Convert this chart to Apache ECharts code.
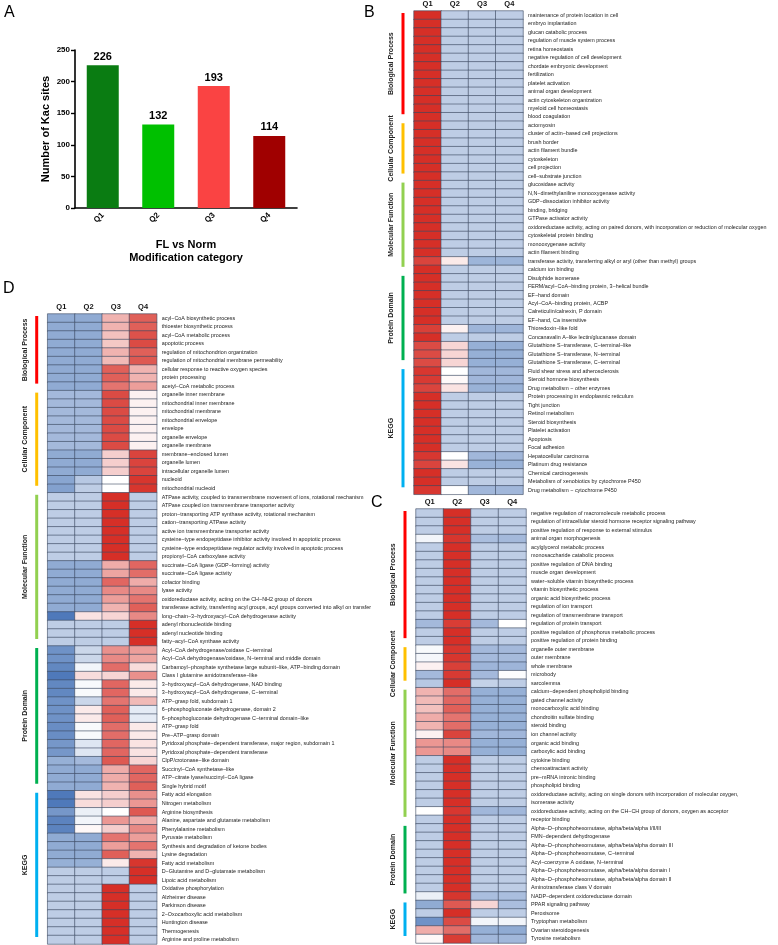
<!DOCTYPE html>
<html><head><meta charset="utf-8">
<script src="https://cdn.jsdelivr.net/npm/echarts@6/dist/echarts.min.js"></script>
<style>html,body{margin:0;padding:0;background:#fff}#c{width:778px;height:945px}</style>
</head><body><div id="c"></div>
<script>
// ---------- Panel A data ----------
const barCategories = ['Q1','Q2','Q3','Q4'];
const barValues = [226,132,193,114];
const barColors = ['#0A7C12','#00C000','#FA4343','#A00000'];
const barAxisTitle = 'Number of Kac sites';
const barXTitle = 'FL vs Norm\nModification category';

// ---------- Shared ----------
const quartiles = ['Q1','Q2','Q3','Q4'];
const groupNames = ['Biological Process','Cellular Component','Molecular Function','Protein Domain','KEGG'];
const groupColors = ['#FF0000','#FFC000','#92D050','#00B050','#00B0F0'];

// ---------- Panel B ----------
const bGroupSizes = [13,7,11,11,15];
const bTerms = [
'maintenance of protein location in cell','embryo implantation','glucan catabolic process','regulation of muscle system process','retina homeostasis','negative regulation of cell development','chordate embryonic development','fertilization','platelet activation','animal organ development','actin cytoskeleton organization','myeloid cell homeostasis','blood coagulation',
'actomyosin','cluster of actin−based cell projections','brush border','actin filament bundle','cytoskeleton','cell projection','cell−substrate junction',
'glucosidase activity','N,N−dimethylaniline monooxygenase activity','GDP−dissociation inhibitor activity','binding, bridging','GTPase activator activity','oxidoreductase activity, acting on paired donors, with incorporation or reduction of molecular oxygen','cytoskeletal protein binding','monooxygenase activity','actin filament binding','transferase activity, transferring alkyl or aryl (other than methyl) groups','calcium ion binding',
'Disulphide isomerase','FERM/acyl−CoA−binding protein, 3−helical bundle','EF−hand domain','Acyl−CoA−binding protein, ACBP','Calreticulin/calnexin, P domain','EF−hand, Ca insensitive','Thioredoxin−like fold','Concanavalin A−like lectin/glucanase domain','Glutathione S−transferase, C−terminal−like','Glutathione S−transferase, N−terminal','Glutathione S−transferase, C−terminal',
'Fluid shear stress and atherosclerosis','Steroid hormone biosynthesis','Drug metabolism − other enzymes','Protein processing in endoplasmic reticulum','Tight junction','Retinol metabolism','Steroid biosynthesis','Platelet activation','Apoptosis','Focal adhesion','Hepatocellular carcinoma','Platinum drug resistance','Chemical carcinogenesis','Metabolism of xenobiotics by cytochrome P450','Drug metabolism − cytochrome P450'
];
const bValues = [
[1.5,-0.5,-0.5,-0.5],[1.5,-0.5,-0.5,-0.5],[1.5,-0.5,-0.5,-0.5],[1.5,-0.5,-0.5,-0.5],[1.5,-0.5,-0.5,-0.5],[1.5,-0.5,-0.5,-0.5],[1.5,-0.5,-0.5,-0.5],[1.5,-0.5,-0.5,-0.5],[1.5,-0.5,-0.5,-0.5],[1.5,-0.5,-0.5,-0.5],[1.5,-0.5,-0.5,-0.5],[1.5,-0.5,-0.5,-0.5],[1.5,-0.5,-0.5,-0.5],
[1.5,-0.5,-0.5,-0.5],[1.5,-0.5,-0.5,-0.5],[1.5,-0.5,-0.5,-0.5],[1.5,-0.5,-0.5,-0.5],[1.5,-0.5,-0.5,-0.5],[1.5,-0.5,-0.5,-0.5],[1.5,-0.5,-0.5,-0.5],
[1.5,-0.5,-0.5,-0.5],[1.5,-0.5,-0.5,-0.5],[1.5,-0.5,-0.5,-0.5],[1.5,-0.5,-0.5,-0.5],[1.5,-0.5,-0.5,-0.5],[1.5,-0.5,-0.5,-0.5],[1.5,-0.5,-0.5,-0.5],[1.5,-0.5,-0.5,-0.5],[1.5,-0.5,-0.5,-0.5],[1.35,0.15,-0.75,-0.75],[1.5,-0.5,-0.5,-0.5],
[1.5,-0.5,-0.5,-0.5],[1.5,-0.5,-0.5,-0.5],[1.5,-0.5,-0.5,-0.5],[1.5,-0.5,-0.5,-0.5],[1.5,-0.5,-0.5,-0.5],[1.5,-0.5,-0.5,-0.5],[1.38,0.1,-0.74,-0.74],[1.5,-0.5,-0.5,-0.5],[1.3,0.3,-0.8,-0.8],[1.3,0.3,-0.8,-0.8],[1.3,0.3,-0.8,-0.8],
[1.44,0.0,-0.72,-0.72],[1.42,0.04,-0.73,-0.73],[1.35,0.2,-0.78,-0.78],[1.5,-0.5,-0.5,-0.5],[1.5,-0.5,-0.5,-0.5],[1.5,-0.5,-0.5,-0.5],[1.5,-0.5,-0.5,-0.5],[1.5,-0.5,-0.5,-0.5],[1.5,-0.5,-0.5,-0.5],[1.5,-0.5,-0.5,-0.5],[1.44,0.0,-0.72,-0.72],[1.35,0.2,-0.78,-0.78],[1.5,-0.5,-0.5,-0.5],[1.5,-0.5,-0.5,-0.5],[1.44,0.0,-0.72,-0.72]
];

// ---------- Panel C ----------
const cGroupSizes = [16,5,16,9,5];
const cTerms = [
'negative regulation of macromolecule metabolic process','regulation of intracellular steroid hormone receptor signaling pathway','positive regulation of response to external stimulus','animal organ morphogenesis','acylglycerol metabolic process','monosaccharide catabolic process','positive regulation of DNA binding','muscle organ development','water−soluble vitamin biosynthetic process','vitamin biosynthetic process','organic acid biosynthetic process','regulation of ion transport','regulation of transmembrane transport','regulation of protein transport','positive regulation of phosphorus metabolic process','positive regulation of protein binding',
'organelle outer membrane','outer membrane','whole membrane','microbody','sarcolemma',
'calcium−dependent phospholipid binding','gated channel activity','monocarboxylic acid binding','chondroitin sulfate binding','steroid binding','ion channel activity','organic acid binding','carboxylic acid binding','cytokine binding','chemoattractant activity','pre−mRNA intronic binding','phospholipid binding','oxidoreductase activity, acting on single donors with incorporation of molecular oxygen,','isomerase activity','oxidoreductase activity, acting on the CH−CH group of donors, oxygen as acceptor','receptor binding',
'Alpha−D−phosphohexomutase, alpha/beta/alpha I/II/III','FMN−dependent dehydrogenase','Alpha−D−phosphohexomutase, alpha/beta/alpha domain III','Alpha−D−phosphohexomutase, C−terminal','Acyl−coenzyme A oxidase, N−terminal','Alpha−D−phosphohexomutase, alpha/beta/alpha domain I','Alpha−D−phosphohexomutase, alpha/beta/alpha domain II','Aminotransferase class V domain','NADP−dependent oxidoreductase domain',
'PPAR signaling pathway','Peroxisome','Tryptophan metabolism','Ovarian steroidogenesis','Tyrosine metabolism'
];
const cValues = [
[-0.5,1.5,-0.5,-0.5],[-0.5,1.5,-0.5,-0.5],[-0.5,1.5,-0.5,-0.5],[-0.1,1.45,-0.65,-0.7],[-0.5,1.5,-0.5,-0.5],[-0.5,1.5,-0.5,-0.5],[-0.5,1.5,-0.5,-0.5],[-0.5,1.5,-0.5,-0.5],[-0.5,1.5,-0.5,-0.5],[-0.5,1.5,-0.5,-0.5],[-0.5,1.5,-0.5,-0.5],[-0.5,1.5,-0.5,-0.5],[-0.5,1.5,-0.5,-0.5],[-0.7,1.4,-0.7,0.0],[-0.5,1.5,-0.5,-0.5],[-0.5,1.5,-0.5,-0.5],
[-0.05,1.45,-0.7,-0.7],[-0.08,1.45,-0.69,-0.68],[0.1,1.38,-0.74,-0.74],[-0.7,1.42,-0.7,-0.02],[-0.55,1.5,-0.45,-0.5],
[0.55,1.05,-0.8,-0.8],[0.5,1.1,-0.8,-0.8],[0.45,1.15,-0.8,-0.8],[0.6,1.0,-0.8,-0.8],[0.55,1.05,-0.8,-0.8],[0.1,1.35,-0.72,-0.73],[0.75,0.85,-0.8,-0.8],[0.75,0.85,-0.8,-0.8],[-0.5,1.5,-0.5,-0.5],[-0.5,1.5,-0.5,-0.5],[-0.5,1.5,-0.5,-0.5],[-0.5,1.5,-0.5,-0.5],[-0.5,1.5,-0.5,-0.5],[-0.5,1.5,-0.5,-0.5],[0.0,1.44,-0.72,-0.72],[-0.5,1.5,-0.5,-0.5],
[-0.5,1.5,-0.5,-0.5],[-0.5,1.5,-0.5,-0.5],[-0.5,1.5,-0.5,-0.5],[-0.5,1.5,-0.5,-0.5],[-0.5,1.5,-0.5,-0.5],[-0.5,1.5,-0.5,-0.5],[-0.5,1.5,-0.5,-0.5],[-0.5,1.5,-0.5,-0.5],[-0.15,1.45,-0.65,-0.65],
[-0.85,1.2,0.3,-0.65],[-0.5,1.5,-0.5,-0.5],[-1.1,1.3,-0.1,-0.1],[0.6,1.05,-0.8,-0.85],[0.05,1.4,-0.72,-0.72]
];

// ---------- Panel D ----------
const dGroupSizes = [9,12,18,17,18];
const dTerms = [
'acyl−CoA biosynthetic process','thioester biosynthetic process','acyl−CoA metabolic process','apoptotic process','regulation of mitochondrion organization','regulation of mitochondrial membrane permeability','cellular response to reactive oxygen species','protein processing','acetyl−CoA metabolic process',
'organelle inner membrane','mitochondrial inner membrane','mitochondrial membrane','mitochondrial envelope','envelope','organelle envelope','organelle membrane','membrane−enclosed lumen','organelle lumen','intracellular organelle lumen','nucleoid','mitochondrial nucleoid',
'ATPase activity, coupled to transmembrane movement of ions, rotational mechanism','ATPase coupled ion transmembrane transporter activity','proton−transporting ATP synthase activity, rotational mechanism','cation−transporting ATPase activity','active ion transmembrane transporter activity','cysteine−type endopeptidase inhibitor activity involved in apoptotic process','cysteine−type endopeptidase regulator activity involved in apoptotic process','propionyl−CoA carboxylase activity','succinate−CoA ligase (GDP−forming) activity','succinate−CoA ligase activity','cofactor binding','lyase activity','oxidoreductase activity, acting on the CH−NH2 group of donors','transferase activity, transferring acyl groups, acyl groups converted into alkyl on transfer','long−chain−3−hydroxyacyl−CoA dehydrogenase activity','adenyl ribonucleotide binding','adenyl nucleotide binding','fatty−acyl−CoA synthase activity',
'Acyl−CoA dehydrogenase/oxidase C−terminal','Acyl−CoA dehydrogenase/oxidase, N−terminal and middle domain','Carbamoyl−phosphate synthetase large subunit−like, ATP−binding domain','Class I glutamine amidotransferase−like','3−hydroxyacyl−CoA dehydrogenase, NAD binding','3−hydroxyacyl−CoA dehydrogenase, C−terminal','ATP−grasp fold, subdomain 1','6−phosphogluconate dehydrogenase, domain 2','6−phosphogluconate dehydrogenase C−terminal domain−like','ATP−grasp fold','Pre−ATP−grasp domain','Pyridoxal phosphate−dependent transferase, major region, subdomain 1','Pyridoxal phosphate−dependent transferase','ClpP/crotonase−like domain','Succinyl−CoA synthetase−like','ATP−citrate lyase/succinyl−CoA ligase','Single hybrid motif',
'Fatty acid elongation','Nitrogen metabolism','Arginine biosynthesis','Alanine, aspartate and glutamate metabolism','Phenylalanine metabolism','Pyruvate metabolism','Synthesis and degradation of ketone bodies','Lysine degradation','Fatty acid metabolism','D−Glutamine and D−glutamate metabolism','Lipoic acid metabolism','Oxidative phosphorylation','Alzheimer disease','Parkinson disease','2−Oxocarboxylic acid metabolism','Huntington disease','Thermogenesis','Arginine and proline metabolism'
];
const dValues = [
[-0.85,-0.85,0.55,1.15],[-0.85,-0.85,0.55,1.15],[-0.85,-0.85,0.45,1.25],[-0.85,-0.85,0.4,1.3],[-0.85,-0.85,0.55,1.15],[-0.85,-0.85,0.5,1.2],[-0.85,-0.85,1.15,0.55],[-0.85,-0.85,1.15,0.55],[-0.85,-0.85,1.0,0.7],
[-0.7,-0.7,1.3,0.1],[-0.7,-0.7,1.3,0.1],[-0.7,-0.7,1.3,0.1],[-0.7,-0.7,1.3,0.1],[-0.7,-0.7,1.3,0.1],[-0.7,-0.7,1.3,0.1],[-0.7,-0.7,1.3,0.1],[-0.85,-0.85,0.35,1.35],[-0.85,-0.85,0.35,1.35],[-0.85,-0.85,0.35,1.35],[-0.9,-0.55,0.0,1.45],[-0.95,-0.5,0.0,1.45],
[-0.5,-0.5,1.5,-0.5],[-0.5,-0.5,1.5,-0.5],[-0.5,-0.5,1.5,-0.5],[-0.5,-0.5,1.5,-0.5],[-0.5,-0.5,1.5,-0.5],[-0.5,-0.5,1.5,-0.5],[-0.5,-0.5,1.5,-0.5],[-0.5,-0.5,1.5,-0.5],[-0.85,-0.85,0.6,1.1],[-0.85,-0.85,0.65,1.05],[-0.85,-0.85,1.1,0.6],[-0.85,-0.85,0.85,0.85],[-0.85,-0.85,0.7,1.0],[-0.85,-0.85,0.55,1.15],[-1.35,0.2,0.3,0.85],[-0.5,-0.5,-0.5,1.5],[-0.5,-0.5,-0.5,1.5],[-0.5,-0.5,-0.5,1.5],
[-1.1,-0.4,0.8,0.7],[-1.1,-0.4,0.85,0.65],[-1.2,-0.1,1.05,0.25],[-1.35,0.25,0.3,0.8],[-1.2,-0.05,1.1,0.15],[-1.2,-0.05,1.1,0.15],[-1.1,-0.4,1.0,0.5],[-1.1,0.15,1.15,-0.2],[-1.1,0.15,1.15,-0.2],[-1.15,-0.05,1.05,0.15],[-1.15,-0.05,1.05,0.15],[-1.05,-0.25,1.1,0.2],[-1.05,-0.25,1.1,0.2],[-0.8,-0.7,1.2,0.3],[-0.85,-0.85,0.6,1.1],[-0.85,-0.85,0.6,1.1],[-0.85,-0.85,0.55,1.15],
[-1.35,0.2,0.35,0.8],[-1.35,0.25,0.35,0.75],[-1.05,-0.15,0.0,1.2],[-1.25,-0.1,0.75,0.6],[-1.25,0.05,0.35,0.85],[-0.85,-0.85,1.0,0.7],[-0.85,-0.85,0.7,1.0],[-0.85,-0.85,1.15,0.55],[-0.8,-0.8,0.15,1.45],[-0.5,-0.5,-0.5,1.5],[-0.5,-0.5,-0.5,1.5],[-0.5,-0.5,1.5,-0.5],[-0.5,-0.5,1.5,-0.5],[-0.5,-0.5,1.5,-0.5],[-0.5,-0.5,1.5,-0.5],[-0.5,-0.5,1.5,-0.5],[-0.5,-0.5,1.5,-0.5],[-0.5,-0.5,1.5,-0.5]
];

// ---------- build ----------
const FONT = 'Liberation Sans, Arial, sans-serif';
function heatData(vals){const out=[];vals.forEach((r,i)=>r.forEach((v,j)=>out.push([j,i,v])));return out;}
function groupData(sizes){const out=[];let s=0;sizes.forEach((n,k)=>{out.push([0,s,s+n-1,k]);s+=n;});return out;}
function sideBar(params, api){
  const s=api.value(1), e=api.value(2), k=api.value(3);
  const p0=api.coord([0,s]), p1=api.coord([0,e]);
  const sz=api.size([1,1]);
  const left=p0[0]-sz[0]/2;
  const top=p0[1]-sz[1]/2+2, bot=p1[1]+sz[1]/2-7;
  return {type:'group',children:[
    {type:'rect',shape:{x:left-12.5,y:top,width:3,height:bot-top},style:{fill:groupColors[k]}},
    {type:'text',x:left-23,y:(top+bot)/2,rotation:Math.PI/2,
     style:{text:groupNames[k],align:'center',verticalAlign:'middle',fontSize:7,fontWeight:'bold',fill:'#222',fontFamily:FONT}}
  ]};
}
function hmX(gi){return {type:'category',gridIndex:gi,data:quartiles,position:'top',
  axisLine:{show:false},axisTick:{show:false},splitLine:{show:false},
  axisLabel:{fontSize:7.5,fontWeight:'bold',color:'#111',margin:3,fontFamily:FONT}};}
function hmY(gi,terms){return {type:'category',gridIndex:gi,data:terms,inverse:true,position:'right',
  axisLine:{show:false},axisTick:{show:false},splitLine:{show:false},
  axisLabel:{fontSize:5.4,color:'#222',margin:5,interval:0,fontFamily:FONT}};}
function hmSeries(idx,vals){return {type:'heatmap',xAxisIndex:idx,yAxisIndex:idx,data:heatData(vals),
  itemStyle:{borderColor:'#3a4860',borderWidth:0.6},emphasis:{disabled:true},animation:false};}
function sideSeries(idx,sizes){return {type:'custom',xAxisIndex:idx,yAxisIndex:idx,data:groupData(sizes),renderItem:sideBar,clip:false,silent:true,animation:false};}

const chart = echarts.init(document.getElementById('c'),null,{renderer:'canvas'});
chart.setOption({
  backgroundColor:'#fff',
  animation:false,
  grid:[
    {left:75,top:50,width:222,height:158},
    {left:414,top:10.7,width:109,height:483.6},
    {left:416,top:509,width:110,height:434},
    {left:47.7,top:314,width:109,height:630}
  ],
  xAxis:[
    {type:'category',gridIndex:0,data:barCategories,
     axisLine:{lineStyle:{color:'#000',width:1.6}},axisTick:{alignWithLabel:true,length:4,lineStyle:{color:'#000',width:1.4}},
     axisLabel:{rotate:45,fontSize:8,fontWeight:'bold',color:'#000',margin:6,fontFamily:FONT},
     name:barXTitle,nameLocation:'middle',nameGap:30,
     nameTextStyle:{fontSize:11,fontWeight:'bold',color:'#000',lineHeight:13,fontFamily:FONT}},
    hmX(1),hmX(2),hmX(3)
  ],
  yAxis:[
    {type:'value',gridIndex:0,min:0,max:250,interval:50,
     axisLine:{show:true,lineStyle:{color:'#000',width:1.6}},axisTick:{show:true,length:4,lineStyle:{color:'#000',width:1.4}},
     splitLine:{show:false},axisLabel:{fontSize:8,fontWeight:'bold',color:'#000',margin:5,fontFamily:FONT},
     name:barAxisTitle,nameLocation:'middle',nameGap:24,
     nameTextStyle:{fontSize:11,fontWeight:'bold',color:'#000',fontFamily:FONT}},
    hmY(1,bTerms),hmY(2,cTerms),hmY(3,dTerms)
  ],
  visualMap:{type:'continuous',min:-1.5,max:1.5,show:false,seriesIndex:[1,2,3],
    inRange:{color:['#3B6AB2','#FFFFFF','#D62F27']}},
  series:[
    {type:'bar',xAxisIndex:0,yAxisIndex:0,barWidth:32,
     data:barValues.map((v,i)=>({value:v,itemStyle:{color:barColors[i]}})),
     label:{show:true,position:'top',distance:3,fontSize:11,fontWeight:'bold',color:'#000',fontFamily:FONT}},
    hmSeries(1,bValues),hmSeries(2,cValues),hmSeries(3,dValues),
    sideSeries(1,bGroupSizes),sideSeries(2,cGroupSizes),sideSeries(3,dGroupSizes)
  ],
  graphic:[
    {type:'text',left:4,top:5,style:{text:'A',fontSize:16,fill:'#000',fontFamily:FONT}},
    {type:'text',left:364,top:5,style:{text:'B',fontSize:16,fill:'#000',fontFamily:FONT}},
    {type:'text',left:371,top:495,style:{text:'C',fontSize:16,fill:'#000',fontFamily:FONT}},
    {type:'text',left:3,top:281,style:{text:'D',fontSize:16,fill:'#000',fontFamily:FONT}}
  ]
});
</script></body></html>
